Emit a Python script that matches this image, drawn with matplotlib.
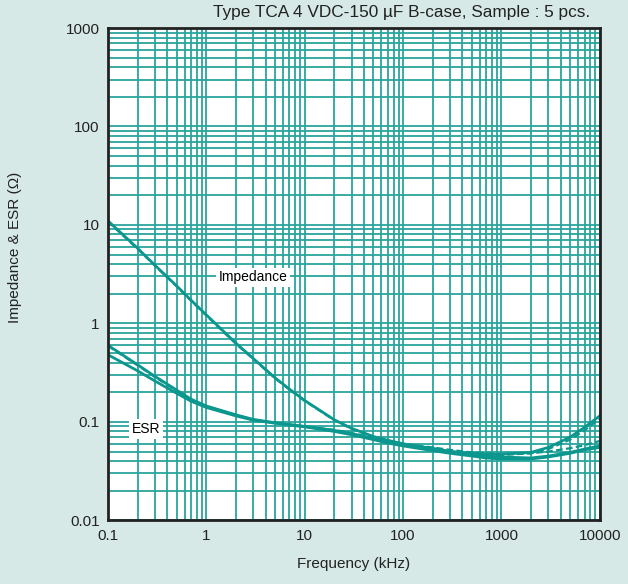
import matplotlib
matplotlib.use("Agg")
import matplotlib.pyplot as plt
from matplotlib.ticker import LogLocator, FixedLocator, NullFormatter

plt.rcParams['font.family'] = ['Liberation Sans', 'DejaVu Sans']

# frequency points (kHz)
freq = [0.1, 0.2, 0.3, 0.5, 0.7, 1, 2, 3, 5, 7, 10, 20, 30, 50, 70,
        100, 200, 300, 500, 700, 1000, 2000, 3000, 5000, 7000, 10000]

# impedance, 2 samples (ohm)
z_a = [11.0, 5.8, 3.9, 2.4, 1.72, 1.22, 0.63, 0.44, 0.28, 0.215, 0.165,
       0.105, 0.086, 0.071, 0.065, 0.060, 0.053, 0.050, 0.048, 0.047,
       0.047, 0.049, 0.055, 0.070, 0.088, 0.115]
z_b = [10.8, 5.7, 3.85, 2.37, 1.70, 1.20, 0.62, 0.435, 0.277, 0.213, 0.163,
       0.104, 0.085, 0.070, 0.064, 0.059, 0.052, 0.049, 0.047, 0.046,
       0.046, 0.048, 0.053, 0.066, 0.082, 0.108]

# ESR, 3 samples (ohm)
esr_a = [0.60, 0.38, 0.29, 0.21, 0.17, 0.145, 0.118, 0.106, 0.098, 0.094,
         0.090, 0.082, 0.076, 0.068, 0.063, 0.059, 0.054, 0.050, 0.047,
         0.045, 0.044, 0.043, 0.045, 0.049, 0.053, 0.057]
esr_b = [0.48, 0.33, 0.26, 0.195, 0.162, 0.140, 0.115, 0.104, 0.097, 0.093,
         0.089, 0.080, 0.074, 0.066, 0.061, 0.057, 0.051, 0.048, 0.045,
         0.043, 0.042, 0.042, 0.044, 0.048, 0.052, 0.055]
esr_c = [0.59, 0.375, 0.285, 0.207, 0.168, 0.143, 0.117, 0.105, 0.098, 0.094,
         0.090, 0.083, 0.077, 0.069, 0.064, 0.060, 0.055, 0.052, 0.049,
         0.048, 0.047, 0.048, 0.050, 0.054, 0.058, 0.064]

bg = '#d6e9e6'
grid_c = '#2aa59c'
line_c = '#0c978e'
txt_c = '#222222'

fig = plt.figure(figsize=(6.28, 5.84), dpi=100, facecolor=bg)
ax = fig.add_axes([0.172, 0.109, 0.783, 0.843])
ax.set_facecolor('white')
ax.set_xscale('log')
ax.set_yscale('log')
ax.set_xlim(0.1, 10000)
ax.set_ylim(0.01, 1000)

ax.xaxis.set_major_locator(FixedLocator([0.1, 1, 10, 100, 1000, 10000]))
ax.yaxis.set_major_locator(FixedLocator([0.01, 0.1, 1, 10, 100, 1000]))
ax.set_xticklabels(['0.1', '1', '10', '100', '1000', '10000'])
ax.set_yticklabels(['0.01', '0.1', '1', '10', '100', '1000'])
ax.xaxis.set_minor_locator(LogLocator(base=10, subs=range(2, 10), numticks=20))
ax.yaxis.set_minor_locator(LogLocator(base=10, subs=range(2, 10), numticks=20))
ax.xaxis.set_minor_formatter(NullFormatter())
ax.yaxis.set_minor_formatter(NullFormatter())
ax.tick_params(which='both', length=0, labelsize=11, colors=txt_c, pad=6)
ax.grid(which='both', color=grid_c, lw=1.3)
ax.set_axisbelow(True)
for s in ax.spines.values():
    s.set_color(txt_c)
    s.set_linewidth(2)

ax.plot(freq, z_a, color=line_c, lw=2)
ax.plot(freq, z_b, color=line_c, lw=1.6, ls=(0, (3, 1.5)))
ax.plot(freq, esr_a, color=line_c, lw=2)
ax.plot(freq, esr_b, color=line_c, lw=2)
ax.plot(freq, esr_c, color=line_c, lw=1.6, ls=(0, (3, 1.5)))

box = dict(facecolor='white', edgecolor='none', pad=2)
ax.text(2.98, 2.93, 'Impedance', fontsize=10, ha='center', va='center', bbox=box)
ax.text(0.243, 0.085, 'ESR', fontsize=10, ha='center', va='center', bbox=box)

ax.set_xlabel('Frequency (kHz)', fontsize=11, color=txt_c, labelpad=10)
fig.text(0.024, 1 - 247 / 584, 'Impedance & ESR (\u03a9)', fontsize=11,
         rotation=90, ha='center', va='center', color=txt_c)
fig.text(0.9395, 0.978, 'Type TCA 4 VDC-150 \u00b5F B-case, Sample : 5 pcs.',
         fontsize=12.4, ha='right', va='center', color=txt_c)

fig.savefig('out.png', dpi=100, facecolor=bg)
